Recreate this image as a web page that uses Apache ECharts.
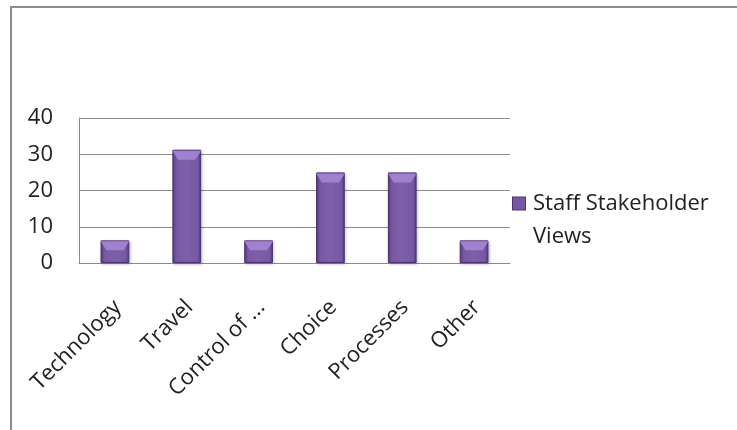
<!DOCTYPE html>
<html>
<head>
<meta charset="utf-8">
<script src="https://cdn.jsdelivr.net/npm/echarts@6/dist/echarts.min.js"></script>
<style>
  html, body { margin: 0; padding: 0; background: #fff; }
  #frame {
    position: absolute; left: 10px; top: 6px; width: 740px; height: 440px;
    border-left: 2px solid #8c8c8c; border-top: 2px solid #8c8c8c;
  }
  #chart { position: absolute; left: 0; top: 0; width: 737px; height: 430px; }
</style>
</head>
<body>
<div id="frame"></div>
<div id="chart"></div>
<script>
// Survey themes and the share of staff stakeholder views for each
const categories = ['Technology', 'Travel', 'Control of ...', 'Choice', 'Processes', 'Other'];
const staffViews = [6.25, 31.25, 6.25, 25, 25, 6.25];
const seriesName = 'Staff Stakeholder Views';
const yTicks = { min: 0, max: 40, interval: 10 };

const FONT = '"Open Sans", "Noto Sans", sans-serif';
const BAR_COLOR = '#7657a4';

const chart = echarts.init(document.getElementById('chart'), null, { renderer: 'canvas' });

chart.setOption({
  animation: false,
  backgroundColor: 'transparent',
  textStyle: { fontFamily: FONT },
  legend: {
    orient: 'vertical',
    left: 508,
    top: 187,
    padding: 0,
    icon: 'none',
    itemWidth: 0,
    itemHeight: 0,
    data: [seriesName],
    // legend key drawn as a rich-text swatch so it sits on the first wrapped line
    formatter: () => '{m|}{g|}{t|Staff Stakeholder}\n{s|}{t|Views}',
    textStyle: {
      fontFamily: FONT,
      fontSize: 22,
      color: '#222',
      lineHeight: 33,
      rich: {
        m: { width: 12, height: 12, backgroundColor: BAR_COLOR, borderColor: '#4d336f', borderWidth: 1 },
        g: { width: 8 },
        s: { width: 20 },
        t: { fontFamily: FONT, fontSize: 22, color: '#222', lineHeight: 33 }
      }
    },
    selectedMode: false
  },
  grid: { left: 79, top: 118, width: 431, height: 145, containLabel: false },
  xAxis: {
    type: 'category',
    data: categories,
    axisLine: { show: true, lineStyle: { color: '#8c8c8c', width: 1 } },
    axisTick: { show: false },
    axisLabel: {
      rotate: 45,
      interval: 0,
      margin: 38,
      verticalAlign: 'top',
      lineHeight: 8,
      fontFamily: FONT,
      fontSize: 22,
      color: '#222'
    }
  },
  yAxis: {
    type: 'value',
    min: yTicks.min,
    max: yTicks.max,
    interval: yTicks.interval,
    axisLine: { show: true, lineStyle: { color: '#8c8c8c', width: 1 } },
    axisTick: { show: false },
    splitLine: { show: true, lineStyle: { color: '#8c8c8c', width: 1 } },
    axisLabel: { margin: 26, fontFamily: FONT, fontSize: 22, color: '#222' }
  },
  series: [{
    name: seriesName,
    type: 'bar',
    data: staffViews,
    barWidth: '40%',
    itemStyle: {
      color: new echarts.graphic.LinearGradient(0, 0, 1, 0, [
        { offset: 0, color: '#5b3d86' },
        { offset: 0.12, color: '#7658a3' },
        { offset: 0.5, color: '#7d5fab' },
        { offset: 0.88, color: '#7658a3' },
        { offset: 1, color: '#553a7f' }
      ]),
      borderColor: '#4d336f',
      borderWidth: 1,
      shadowColor: 'rgba(0,0,0,0.25)',
      shadowBlur: 3,
      shadowOffsetX: 1,
      shadowOffsetY: 1
    }
  }, {
    // bevelled highlight across the top of each column
    name: 'bevel',
    type: 'pictorialBar',
    data: staffViews,
    barWidth: '40%',
    symbol: 'path://M0,0 L10,0 L8,3 L2,3 Z',
    symbolSize: ['100%', 9],
    symbolPosition: 'end',
    symbolOffset: [0, 1],
    z: 3,
    silent: true,
    itemStyle: { color: '#a585d4', opacity: 0.9 }
  }]
});
</script>
</body>
</html>
